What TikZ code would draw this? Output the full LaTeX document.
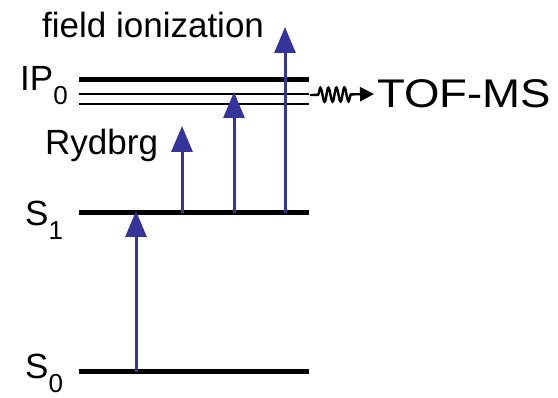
\documentclass[tikz,border=0pt]{standalone}
\usepackage{fontspec}
\setmainfont{Liberation Sans}
\usetikzlibrary{arrows.meta,positioning,decorations.pathmorphing}
\definecolor{exblue}{HTML}{35349A}
\newcommand{\lvsub}[1]{\raisebox{-0.38em}{\fontsize{26}{26}\selectfont #1}}

\begin{document}
\begin{tikzpicture}[
    x=1pt, y=-1pt,
    level/.style={line width=5pt},
    sublevel/.style={line width=1.6pt},
    lbl/.style={font=\fontsize{35}{40}\selectfont, inner sep=0pt, anchor=base west},
    excite/.style={exblue, line width=3pt, -{Triangle[length=26pt,width=21pt]}},
    signal/.style={line width=2.4pt, decorate, decoration={snake, amplitude=7pt, segment length=8pt, pre length=8pt, post length=20pt}, -{Triangle[length=14pt,width=14pt]}}
]
\useasboundingbox (0,0) rectangle (558,398);

% Levels
\coordinate (ipL) at (79,80);   \coordinate (ipR) at (309,80);
\coordinate (ryaL) at (79,94);  \coordinate (ryaR) at (309,94);
\coordinate (rybL) at (79,104); \coordinate (rybR) at (309,104);
\coordinate (s1L) at (79,213);  \coordinate (s1R) at (309,213);
\coordinate (s0L) at (79,372);  \coordinate (s0R) at (309,372);
\draw[level] (ipL) -- (ipR);
\draw[sublevel] (ryaL) -- (ryaR);
\draw[sublevel] (rybL) -- (rybR);
\draw[level] (s1L) -- (s1R);
\draw[level] (s0L) -- (s0R);

% Labels
\node[lbl] (fi) at (42,38) {field ionization};
\node[lbl] (ip) at (20,91) {IP\lvsub{0}};
\node[lbl] (ryd) at (45,155) {Rydbrg};
\node[lbl] (s1) at (25,226) {S\lvsub{1}};
\node[lbl] (s0) at (25,379) {S\lvsub{0}};
\node[lbl, anchor=west, font=\fontsize{40}{44}\selectfont] (tof) at (377,94) {\scalebox{1.14}[1]{TOF-MS}};

% Excitation arrows
\coordinate (a0b) at (136,372); \coordinate (a0t) at (136,211);
\coordinate (a1b) at (182,213); \coordinate (a1t) at (182,126);
\coordinate (a2b) at (234,213); \coordinate (a2t) at (234,92);
\coordinate (a3b) at (285,213); \coordinate (a3t) at (285,27);
\draw[excite] (a0b) -- (a0t);
\draw[excite] (a1b) -- (a1t);
\draw[excite] (a2b) -- (a2t);
\draw[excite] (a3b) -- (a3t);

% Ion signal
\coordinate (ws) at (310,95);
\draw[signal] (ws) -- ([xshift=-3pt]tof.west);

\end{tikzpicture}
\end{document}
